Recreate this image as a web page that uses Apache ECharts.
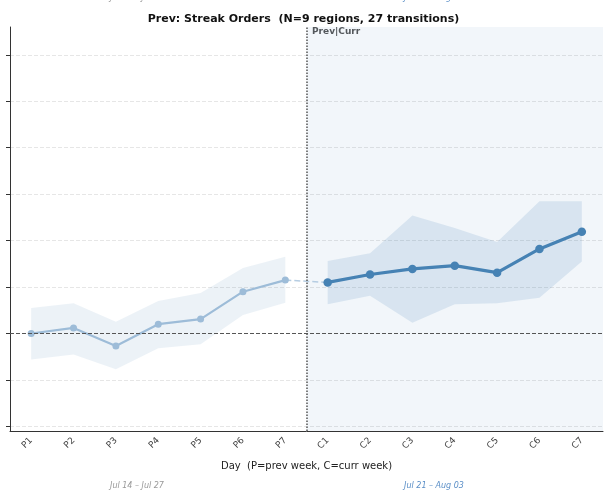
<!DOCTYPE html>
<html>
<head>
<meta charset="utf-8">
<script src="https://cdn.jsdelivr.net/npm/echarts@6/dist/echarts.min.js"></script>
<style>
  html, body { margin: 0; padding: 0; background: #fff; }
  #chart { width: 607px; height: 498px; }
</style>
</head>
<body>
<div id="chart"></div>
<script>
// day categories (prev week then curr week)
var days = ["P1", "P2", "P3", "P4", "P5", "P6", "P7", "C1", "C2", "C3", "C4", "C5", "C6", "C7"];
var prevMean = [0, 0.12, -0.27, 0.2, 0.31, 0.9, 1.15];
var prevUpper = [0.55, 0.65, 0.25, 0.7, 0.87, 1.41, 1.65];
var prevLower = [-0.56, -0.45, -0.77, -0.32, -0.23, 0.4, 0.66];
var currMean = [1.1, 1.27, 1.39, 1.46, 1.31, 1.82, 2.19];
var currUpper = [1.56, 1.73, 2.54, 2.27, 1.97, 2.85, 2.85];
var currLower = [0.63, 0.81, 0.23, 0.63, 0.65, 0.77, 1.55];
var yTicks = [-2, -1, 0, 1, 2, 3, 4, 5, 6];
var prevRange = "Jul 14 \u2013 Jul 27";
var currRange = "Jul 21 \u2013 Aug 03";

var FONT = "DejaVu Sans";
var blank = days.slice(0, 7).map(function () { return null; });
function onPrev(a) { return a.concat(blank); }
function onCurr(a) { return blank.concat(a); }
function diff(u, l) { return u.map(function (v, i) { return +(v - l[i]).toFixed(3); }); }
var connector = blank.slice(0, 6).concat([prevMean[6], currMean[0]]).concat(blank.slice(0, 6));

var chart = echarts.init(document.getElementById("chart"));
var option = {
    animation: false,
    title: {
        text: "Prev: Streak Orders  (N=9 regions, 27 transitions)",
        left: "center",
        top: 9,
        textStyle: { fontFamily: FONT, fontSize: 11, fontWeight: "bold", color: "#111" },
    },
    grid: { left: 10, right: 4, top: 27, bottom: 67 },
    xAxis: [
        {
            type: "category",
            data: days,
            boundaryGap: true,
            name: "Day  (P=prev week, C=curr week)",
            nameLocation: "middle",
            nameGap: 30,
            nameTextStyle: { fontFamily: FONT, fontSize: 10, color: "#222" },
            axisLine: { onZero: false, lineStyle: { color: "#333", width: 1 } },
            axisTick: { alignWithLabel: true, length: 4, lineStyle: { color: "#333" } },
            axisLabel: { rotate: 45, fontFamily: FONT, fontSize: 9, color: "#444", margin: 8 },
            splitLine: { show: false },
        },
        { type: "value", show: false, min: -0.5, max: 13.5 },
    ],
    yAxis: {
        type: "value",
        min: -2.1,
        max: 6.6,
        axisLine: { show: true, onZero: false, lineStyle: { color: "#333", width: 1 } },
        axisTick: { show: true, length: 4, customValues: yTicks, lineStyle: { color: "#333" } },
        axisLabel: { show: false, customValues: yTicks },
        splitLine: { show: true, lineStyle: { color: "#e6e6e6", type: "dashed", width: 1 } },
    },
    series: [
        {
            // week shading, divider and zero line
            type: "line",
            xAxisIndex: 1,
            data: [],
            silent: true,
            markArea: {
                silent: true,
                itemStyle: { color: "rgba(70,130,180,0.07)" },
                data: [[{ xAxis: 6.5 }, { xAxis: 13.5 }]],
            },
            markLine: {
                silent: true,
                symbol: "none",
                label: { show: false },
                data: [
                    { xAxis: 6.5, lineStyle: { color: "#555", type: "dotted", width: 1.5 } },
                    { yAxis: 0, lineStyle: { color: "#555", type: "dashed", width: 1 } },
                ],
            },
        },
        {
            type: "line", stack: "prevBand", stackStrategy: "all",
            data: onPrev(prevLower), symbol: "none", lineStyle: { opacity: 0 }, silent: true,
        },
        {
            type: "line", stack: "prevBand", stackStrategy: "all",
            data: onPrev(diff(prevUpper, prevLower)), symbol: "none",
            lineStyle: { opacity: 0 }, areaStyle: { color: "rgba(70,130,180,0.1)", opacity: 1 }, silent: true,
        },
        {
            type: "line", stack: "currBand", stackStrategy: "all",
            data: onCurr(currLower), symbol: "none", lineStyle: { opacity: 0 }, silent: true,
        },
        {
            type: "line", stack: "currBand", stackStrategy: "all",
            data: onCurr(diff(currUpper, currLower)), symbol: "none",
            lineStyle: { opacity: 0 }, areaStyle: { color: "rgba(70,130,180,0.15)", opacity: 1 }, silent: true,
        },
        {
            name: "connector", type: "line", data: connector, symbol: "none",
            lineStyle: { color: "#b6cde2", width: 1.5, type: "dashed" },
        },
        {
            name: "prev", type: "line", data: onPrev(prevMean),
            symbol: "circle", symbolSize: 7,
            itemStyle: { color: "#9dbcd8" },
            lineStyle: { color: "#9dbcd8", width: 2.2 },
        },
        {
            name: "curr", type: "line", data: onCurr(currMean),
            symbol: "circle", symbolSize: 8.5,
            itemStyle: { color: "#4682b4" },
            lineStyle: { color: "#4682b4", width: 3.2 },
        },
    ],
    graphic: [
        { type: "text", left: 312, top: 27, style: { text: "Prev|Curr", font: "bold 9px " + FONT, fill: "#555" } },
        { type: "text", x: 137, y: 486, style: { text: prevRange, font: "italic 8px " + FONT, fill: "#999", align: "center", verticalAlign: "middle" } },
        { type: "text", x: 434, y: 486, style: { text: currRange, font: "italic 8px " + FONT, fill: "#5b8fc7", align: "center", verticalAlign: "middle" } },
        { type: "text", x: 137, y: -2, style: { text: prevRange, font: "italic 8px " + FONT, fill: "#999", align: "center", verticalAlign: "middle" } },
        { type: "text", x: 434, y: -2, style: { text: currRange, font: "italic 8px " + FONT, fill: "#5b8fc7", align: "center", verticalAlign: "middle" } },
    ],
};
chart.setOption(option);
window.addEventListener("resize", function () { chart.resize(); });
</script>
</body>
</html>
